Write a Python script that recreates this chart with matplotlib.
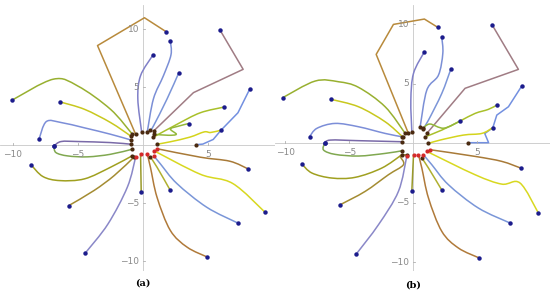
import numpy as np
import matplotlib
matplotlib.use("agg")
import matplotlib.pyplot as plt
from matplotlib.path import Path
from matplotlib.patches import PathPatch

# trajectories: each starts at the outer (blue) point and ends near the origin
paths_a = [
    [(1.77, 9.80), (0.11, 11.0), (-3.5, 8.6), (-0.57, 0.95)],
    [(2.10, 9.0), (2.15, 7.8), (1.57, 6.0), (0.8, 4.0), (0.32, 1.1)],
    [(0.75, 7.76), (-0.19, 6.0), (-0.4, 4.0), (-0.1, 1.1)],
    [(2.73, 6.2), (1.85, 4.0), (0.8, 1.66), (0.57, 1.3)],
    [(5.92, 9.94), (7.7, 6.55), (3.88, 4.54), (0.82, 1.23)],
    [(8.2, 4.83), (7.3, 2.8), (6.0, 1.3), (5.4, 0.5), (4.6, 0.1), (4.1, 0.05)],
    [(6.25, 3.3), (4.4, 2.8), (2.6, 1.8), (0.8, 0.7)],
    [(3.5, 1.87), (2.7, 1.64), (2.1, 1.4), (2.56, 0.95), (1.95, 0.86), (0.85, 0.95)],
    [(6.0, 1.3), (5.2, 1.1), (4.7, 1.15), (3.6, 0.7), (2.1, 0.3), (1.08, 0.09)],
    [(-10.06, 3.9), (-6.9, 5.7), (-5.0, 5.1), (-2.5, 3.1), (-0.82, 0.95)],
    [(-6.35, 3.73), (-4.5, 3.1), (-2.5, 1.96), (-0.95, 0.8)],
    [(-8.0, 0.52), (-7.44, 2.04), (-6.3, 1.96), (-4.5, 1.5), (-2.5, 0.95), (-0.95, 0.46)],
    [(-6.85, -0.06), (-6.3, 0.32), (-5.0, 0.32), (-2.5, 0.23), (-0.95, 0.09)],
    [(-6.85, -0.06), (-6.7, -0.63), (-5.8, -0.92), (-4.26, -1.0), (-2.5, -0.78), (-0.82, -0.34)],
    [(-8.6, -1.7), (-7.7, -2.7), (-6.4, -3.05), (-4.5, -2.9), (-2.5, -1.9), (-0.82, -0.9)],
    [(-5.7, -5.2), (-3.76, -3.9), (-2.2, -2.6), (-0.7, -1.03)],
    [(-4.44, -9.3), (-2.7, -6.8), (-1.2, -3.6), (-0.57, -1.03)],
    [(-0.14, -4.0), (-0.19, -0.75)],
    [(2.1, -3.9), (1.08, -1.9), (0.57, -1.03)],
    [(4.95, -9.65), (3.4, -8.8), (2.1, -7.35), (1.08, -4.5), (0.57, -1.9), (0.32, -0.75)],
    [(7.27, -6.7), (4.9, -5.35), (2.6, -3.3), (1.33, -1.6), (0.82, -0.9)],
    [(9.4, -5.8), (6.9, -3.3), (4.4, -2.5), (0.82, -0.46)],
    [(8.08, -2.04), (6.68, -1.38), (4.4, -1.03), (1.08, -0.3)],
]

paths_b = [
    [(1.93, 9.72), (0.88, 10.42), (-1.54, 9.97), (-2.89, 7.45), (-0.37, 0.81)],
    [(2.24, 8.88), (2.32, 7.54), (1.98, 5.71), (1.07, 4.45), (0.55, 1.37)],
    [(0.88, 7.67), (0.03, 5.86), (-0.18, 3.61), (-0.1, 0.95)],
    [(2.94, 6.19), (2.24, 4.17), (1.2, 1.93), (0.8, 1.23)],
    [(6.2, 9.89), (8.23, 6.19), (4.06, 4.6), (1.07, 0.81)],
    [(8.49, 4.79), (7.45, 3.05), (6.54, 2.35), (6.23, 1.29), (5.6, 0.8), (5.9, 0.03), (4.3, 0.03)],
    [(6.54, 3.19), (5.88, 2.83), (4.84, 2.49), (3.67, 1.85), (2.24, 1.09), (0.94, 0.53)],
    [(3.67, 1.85), (2.4, 1.25), (1.3, 1.6), (0.75, 1.2)],
    [(6.23, 1.29), (5.37, 0.81), (3.93, 0.67), (2.1, 0.25), (1.2, -0.03)],
    [(-10.2, 3.81), (-7.66, 5.21), (-5.83, 5.15), (-4.27, 4.68), (-2.19, 3.05), (-0.62, 0.81)],
    [(-6.4, 3.67), (-4.27, 3.05), (-2.19, 1.79), (-0.83, 0.53)],
    [(-8.1, 0.53), (-7.52, 1.24), (-6.1, 1.65), (-4.27, 1.37), (-2.19, 0.81), (-0.88, 0.53)],
    [(-6.93, -0.03), (-6.48, 0.25), (-4.27, 0.2), (-0.88, 0.11)],
    [(-6.93, -0.03), (-7.0, -0.59), (-6.1, -0.95), (-4.27, -1.09), (-2.19, -0.87), (-0.88, -0.65)],
    [(-8.7, -1.76), (-7.91, -2.52), (-6.35, -2.94), (-4.53, -2.88), (-2.45, -2.1), (-0.88, -0.98)],
    [(-5.7, -5.18), (-3.75, -4.06), (-1.93, -2.66), (-0.76, -1.82), (-1.0, -1.1), (-0.5, -0.98)],
    [(-4.45, -9.33), (-2.71, -6.86), (-1.15, -4.06), (-0.5, -1.12)],
    [(-0.1, -4.0), (0.03, -0.98)],
    [(2.24, -3.95), (1.2, -2.1), (0.68, -1.26)],
    [(5.18, -9.66), (3.54, -8.82), (2.24, -7.42), (1.2, -4.62), (0.68, -2.1), (0.41, -0.98)],
    [(7.58, -6.72), (5.1, -5.46), (2.76, -3.5), (1.46, -1.82), (0.8, -0.98)],
    [(9.79, -5.88), (8.36, -3.36), (6.93, -3.45), (4.84, -2.66), (1.07, -0.7)],
    [(8.41, -2.1), (6.93, -1.54), (4.84, -1.12), (1.33, -0.56)],
]

line_colors = [
    "#b88a3c", "#7b8fd6", "#8080c8", "#7b95d8", "#a07c84", "#7390e0",
    "#a9c02a", "#94b83a", "#d4d41c", "#98b030", "#c8c81e", "#7c8ed8",
    "#7a6aa8", "#80a850", "#a0a020", "#a48c32", "#8a88c8", "#9a9a2a",
    "#b0b030", "#b07a3a", "#7a96d8", "#d8d820", "#a87a38",
]
# paths drawn as straight segments (the rest are drawn smooth)
straight = [0, 4, 5]
end_red = [0, 0, 0, 0, 0, 0, 0, 0, 0, 0, 0, 0, 0, 0, 0, 0, 1, 1, 0, 1, 1, 1, 1]

x_ticks = [-10, -5, 5]
y_ticks = [-10, -5, 5, 10]

fig = plt.figure(figsize=(5.5, 2.95), dpi=100)


def smooth_path(pts):
    # cubic bezier through the waypoints (catmull-rom style handles)
    p = np.array(pts, dtype=float)
    n = len(p)
    verts = [p[0]]
    codes = [Path.MOVETO]
    for i in range(n - 1):
        p0 = p[max(i - 1, 0)]
        p1 = p[i]
        p2 = p[i + 1]
        p3 = p[min(i + 2, n - 1)]
        verts += [p1 + (p2 - p0) / 6, p2 - (p3 - p1) / 6, p2]
        codes += [Path.CURVE4] * 3
    return Path(verts, codes)


def draw_panel(ax, paths, label):
    ax.axhline(0, color="#c8c8c8", lw=0.6, zorder=0)
    ax.axvline(0, color="#c8c8c8", lw=0.6, zorder=0)
    for k, p in enumerate(paths):
        if k in straight or len(p) < 3:
            ax.plot([q[0] for q in p], [q[1] for q in p], color=line_colors[k],
                    lw=1.1, solid_joinstyle="round", zorder=2)
        else:
            ax.add_patch(PathPatch(smooth_path(p), fc="none", ec=line_colors[k],
                                   lw=1.1, zorder=2))
    for k, p in enumerate(paths):
        ax.plot(p[0][0], p[0][1], "o", color="#1c1c8c", ms=3.2, mec="none", zorder=4)
        ec = "#d42a2a" if end_red[k] else "#4a2a10"
        ax.plot(p[-1][0], p[-1][1], "o", color=ec, ms=3.0, mec="none", zorder=4)
    for t in x_ticks:
        ax.plot([t, t], [0, 0.18], color="#b0b0b0", lw=0.6)
        ax.text(t, -0.45, "\u2212" + str(-t) if t < 0 else str(t), ha="center", va="top",
                fontsize=6.5, color="#8a8a8a")
    for t in y_ticks:
        ax.plot([0, 0.18], [t, t], color="#b0b0b0", lw=0.6)
        ax.text(-0.3, t, "\u2212" + str(-t) if t < 0 else str(t), ha="right", va="center",
                fontsize=6.5, color="#8a8a8a")
    ax.axis("off")
    ax.text(0.0, -11.9, label, ha="center", va="center", fontsize=7,
            fontweight="bold", family="DejaVu Serif", clip_on=False)


ax1 = fig.add_axes([0, 1 - 271 / 295, 0.5, 266 / 295])
ax1.set_xlim(-11.0, 10.15)
ax1.set_ylim(-10.85, 12.1)
draw_panel(ax1, paths_a, "(a)")

ax2 = fig.add_axes([0.5, 1 - 271 / 295, 0.5, 266 / 295])
ax2.set_xlim(-10.8, 10.7)
ax2.set_ylim(-10.75, 11.6)
draw_panel(ax2, paths_b, "(b)")

fig.savefig("out.png", dpi=100)
